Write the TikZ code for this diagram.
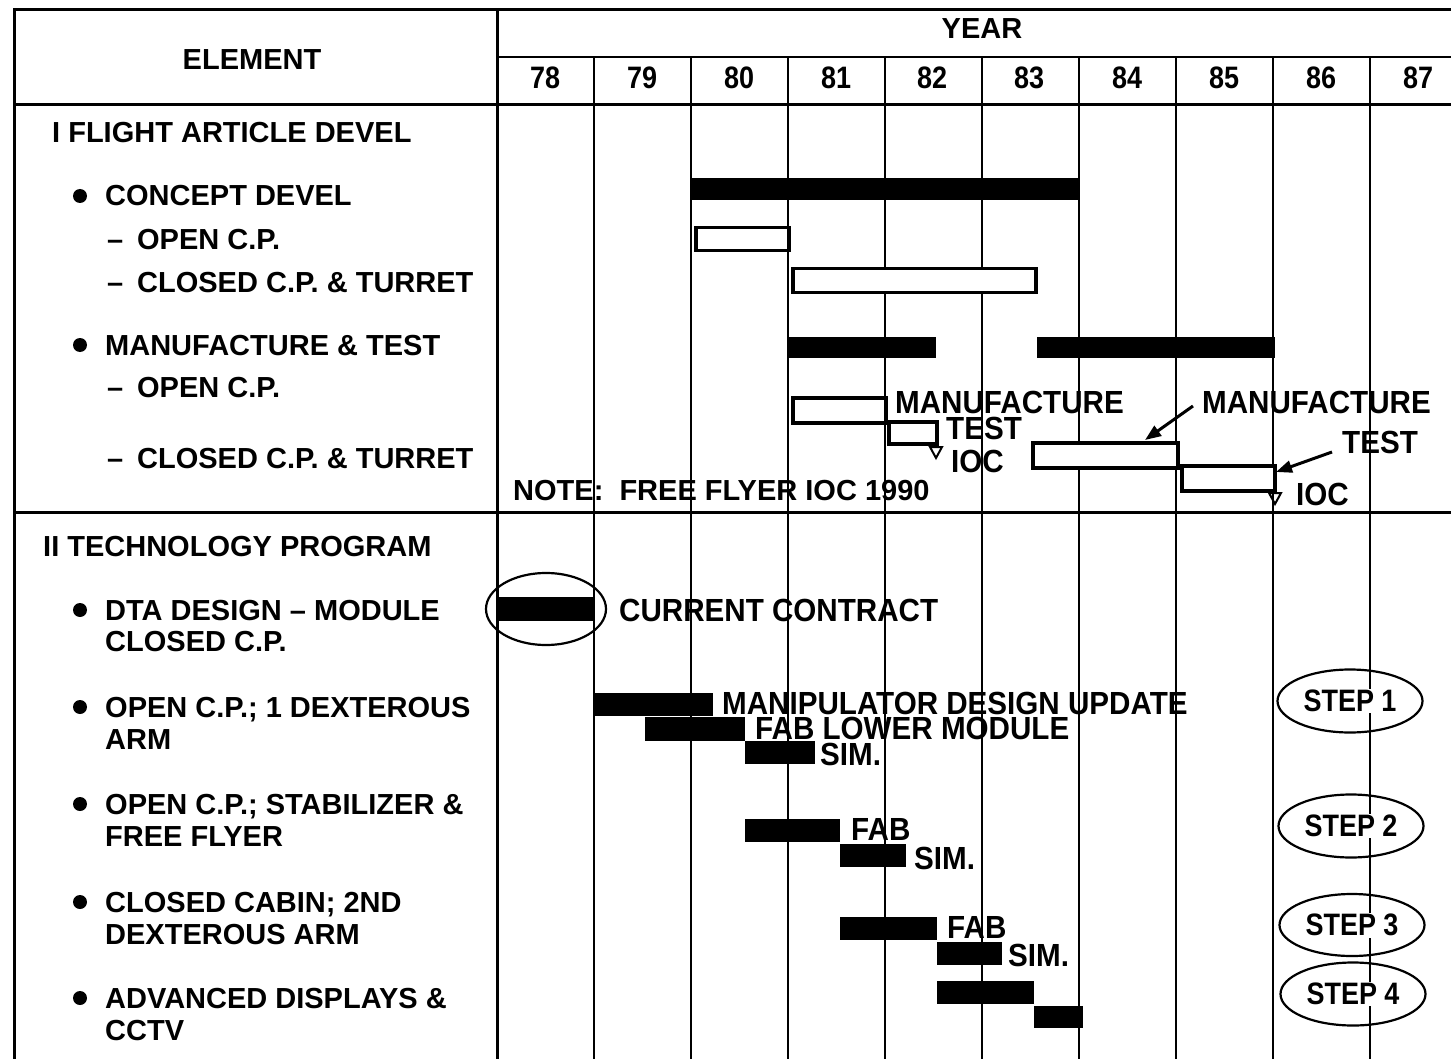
\documentclass[tikz,border=0pt]{standalone}
\usepackage{fontspec}
\setmainfont{Liberation Sans}
\newfontfamily\labfont[FakeStretch=0.87]{Liberation Sans}
\newfontfamily\labwide[FakeStretch=0.925]{Liberation Sans}
\usetikzlibrary{shapes.geometric,arrows.meta,calc}
\begin{document}
\begin{tikzpicture}[x=1pt,y=-1pt,
  gridline/.style={line width=2.2pt},
  frameline/.style={line width=3pt},
  lt/.style={font=\bfseries\fontsize{29}{34}\selectfont, inner sep=0pt, anchor=base west},
  ct/.style={font=\labwide\bfseries\fontsize{32}{36}\selectfont, inner sep=0pt, anchor=base west},
  yt/.style={font=\labfont\bfseries\fontsize{31}{36}\selectfont, inner sep=0pt, anchor=base},
  blk/.style={fill=black, draw=none, inner sep=0pt, anchor=north west},
  wht/.style={fill=white, draw=black, line width=3.5pt, inner sep=0pt, anchor=north west},
  bul/.style={fill=black},
  ell/.style={draw, ellipse, line width=2.2pt, inner sep=0pt},
  steptxt/.style={font=\labfont\bfseries\fontsize{31}{36}\selectfont, fill=white, inner sep=1.5pt},
  arr/.style={line width=3pt, -{Triangle[length=16pt,width=12pt]}},
  tri/.style={line width=2pt, line join=miter}
]
\useasboundingbox (0,0) rectangle (1451,1059);
\newcommand{\dsh}{\makebox[30pt][l]{–}}

% ---------- grid ----------
\draw[frameline] (14,1059) -- (14,10) -- (1451,10);
\draw[frameline] (497,10) -- (497,1059);
\draw[gridline] (497,57) -- (1451,57);
\draw[frameline] (14,105) -- (1451,105);
\draw[frameline] (14,512) -- (1451,512);
\foreach \x in {594,691,788,885,982,1079,1176,1273,1370}
  \draw[gridline] (\x,57) -- (\x,1059);

% ---------- header ----------
\node[lt, anchor=base] (hel) at (252,70) {ELEMENT};
\node[lt, anchor=base] (hyr) at (982,39) {YEAR};
\node[yt] (y78) at (545,89) {78};
\node[yt] (y79) at (642,89) {79};
\node[yt] (y80) at (739,89) {80};
\node[yt] (y81) at (836,89) {81};
\node[yt] (y82) at (932,89) {82};
\node[yt] (y83) at (1029,89) {83};
\node[yt] (y84) at (1127,89) {84};
\node[yt] (y85) at (1224,89) {85};
\node[yt] (y86) at (1321,89) {86};
\node[yt] (y87) at (1418,89) {87};

% ---------- left column, section I ----------
\node[lt] (t1) at (52,143) {I FLIGHT ARTICLE DEVEL};
\fill[bul] (80,196) circle (7);
\node[lt] (t2) at (105,206) {CONCEPT DEVEL};
\node[lt] (t3) at (107,250) {\dsh OPEN C.P.};
\node[lt] (t4) at (107,293) {\dsh CLOSED C.P. \& TURRET};
\fill[bul] (80,345) circle (7);
\node[lt] (t5) at (105,355) {MANUFACTURE \& TEST};
\node[lt] (t6) at (107,397) {\dsh OPEN C.P.};
\node[lt] (t7) at (107,468) {\dsh CLOSED C.P. \& TURRET};
\node[lt] (note) at (513,500) {NOTE:\ \ FREE FLYER IOC 1990};

% ---------- left column, section II ----------
\node[lt] (t8) at (43,556) {II TECHNOLOGY PROGRAM};
\fill[bul] (80,610) circle (7);
\node[lt] (t9) at (105,620) {DTA DESIGN – MODULE};
\node[lt] (t9b) at (105,651) {CLOSED C.P.};
\fill[bul] (80,707) circle (7);
\node[lt] (t10) at (105,717) {OPEN C.P.; 1 DEXTEROUS};
\node[lt] (t10b) at (105,749) {ARM};
\fill[bul] (80,804) circle (7);
\node[lt] (t11) at (105,814) {OPEN C.P.; STABILIZER \&};
\node[lt] (t11b) at (105,846) {FREE FLYER};
\fill[bul] (80,902) circle (7);
\node[lt] (t12) at (105,912) {CLOSED CABIN; 2ND};
\node[lt] (t12b) at (105,944) {DEXTEROUS ARM};
\fill[bul] (80,998) circle (7);
\node[lt] (t13) at (105,1008) {ADVANCED DISPLAYS \&};
\node[lt] (t13b) at (105,1040) {CCTV};

% ---------- section I bars ----------
\node[blk, minimum width=388pt, minimum height=22pt] (cd) at (691,178) {};
\node[wht, minimum width=93pt, minimum height=23pt] (cdo) at (694,226) {};
\node[wht, minimum width=243pt, minimum height=24pt] (cdc) at (791,267) {};
\node[blk, minimum width=147pt, minimum height=21pt] (mt1) at (789,337) {};
\node[blk, minimum width=238pt, minimum height=21pt] (mt2) at (1037,337) {};
\node[wht, minimum width=93pt, minimum height=25pt] (om) at (791,396) {};
\node[wht, minimum width=48pt, minimum height=22pt] (ot) at (887,420) {};
\node[wht, minimum width=145pt, minimum height=25pt] (cm) at (1031,441) {};
\node[wht, minimum width=93pt, minimum height=25pt] (ctb) at (1180,464) {};

\node[ct] (lm1) at (895,413) {MANUFACTURE};
\node[ct] (lt1) at (946,439) {TEST};
\draw[tri] (930,447) -- (942,447) -- (936,458) -- cycle;
\node[ct] (li1) at (951,472) {IOC};

\node[ct] (lm2) at (1202,413) {MANUFACTURE};
\node[ct] (lt2) at (1342,453) {TEST};
\draw[tri] (1269,493) -- (1281,493) -- (1275,504) -- cycle;
\node[ct] (li2) at (1296,505) {IOC};

\coordinate (a1s) at (1193,406);
\coordinate (a1e) at (1145,440);
\draw[arr] (a1s) -- (a1e);
\coordinate (a2s) at (1332,452);
\coordinate (a2e) at (1276,472);
\draw[arr] (a2s) -- (a2e);

% ---------- section II bars ----------
\node[blk, minimum width=97pt, minimum height=24pt] (dta) at (497,597) {};
\node[ell, minimum width=120pt, minimum height=72pt] (dtae) at (546,609) {};
\node[ct] (lcc) at (619,621) {CURRENT CONTRACT};

\node[blk, minimum width=118pt, minimum height=23pt] (b1) at (595,693) {};
\node[blk, minimum width=100pt, minimum height=24pt] (b2) at (645,717) {};
\node[blk, minimum width=70pt, minimum height=23pt] (b3) at (745,741) {};
\node[ct] (l1) at (722,714) {MANIPULATOR DESIGN UPDATE};
\node[ct] (l2) at (755,739) {FAB LOWER MODULE};
\node[ct] (l3) at (820,765) {SIM.};

\node[blk, minimum width=95pt, minimum height=23pt] (b4) at (745,819) {};
\node[blk, minimum width=66pt, minimum height=23pt] (b5) at (840,844) {};
\node[ct] (l4) at (851,840) {FAB};
\node[ct] (l5) at (914,869) {SIM.};

\node[blk, minimum width=97pt, minimum height=23pt] (b6) at (840,917) {};
\node[blk, minimum width=65pt, minimum height=23pt] (b7) at (937,942) {};
\node[ct] (l6) at (947,938) {FAB};
\node[ct] (l7) at (1008,966) {SIM.};

\node[blk, minimum width=97pt, minimum height=23pt] (b8) at (937,981) {};
\node[blk, minimum width=49pt, minimum height=22pt] (b9) at (1034,1006) {};

% ---------- steps ----------
\node[ell, minimum width=145pt, minimum height=63pt] (s1) at (1350,701) {};
\node[steptxt] (s1t) at (s1) {STEP 1};
\node[ell, minimum width=145pt, minimum height=63pt] (s2) at (1351,826) {};
\node[steptxt] (s2t) at (s2) {STEP 2};
\node[ell, minimum width=145pt, minimum height=62pt] (s3) at (1352,925) {};
\node[steptxt] (s3t) at (s3) {STEP 3};
\node[ell, minimum width=145pt, minimum height=63pt] (s4) at (1353,994) {};
\node[steptxt] (s4t) at (s4) {STEP 4};
\end{tikzpicture}
\end{document}
